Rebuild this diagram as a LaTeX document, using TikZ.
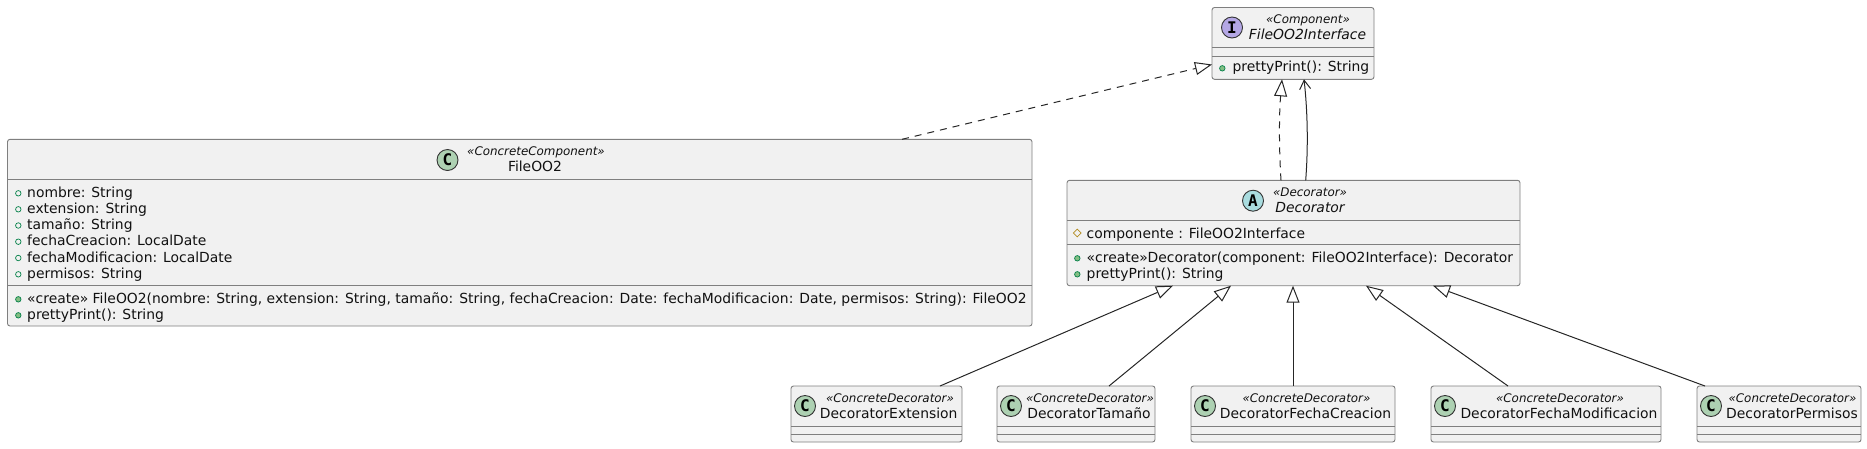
\documentclass[tikz,border=0pt]{standalone}
\usepackage{fontspec}
\setmainfont{DejaVu Sans}
\newfontfamily\badgefont{DejaVu Sans Mono}[BoldFont={DejaVu Sans Mono Bold}]
\usetikzlibrary{arrows.meta,shapes.geometric}
\definecolor{bgc}{HTML}{F1F1F1}
\definecolor{edgec}{HTML}{7F7F7F}
\definecolor{txtc}{HTML}{111111}
\definecolor{grnc}{HTML}{84BE84}
\definecolor{grnd}{HTML}{038048}
\definecolor{dia}{HTML}{B38D22}
\definecolor{clsc}{HTML}{ADD1B2}
\definecolor{absc}{HTML}{A9DCDF}
\definecolor{intc}{HTML}{B4A7E5}
\newcommand{\stereo}[1]{{\fontsize{11.9}{14}\selectfont\itshape «#1»}}
\tikzset{x=1pt,y=-1pt,
 classbox/.style={draw=edgec,fill=bgc,line width=0.9pt,rounded corners=2.5pt},
 sepline/.style={draw=edgec,line width=0.9pt},
 member/.style={anchor=base west,inner sep=0pt,font=\fontsize{13.9}{16}\selectfont,text=txtc},
 title/.style={anchor=base,inner sep=0pt,font=\fontsize{13.9}{16}\selectfont,text=txtc},
 titleit/.style={title,font=\fontsize{13.9}{16}\selectfont\itshape},
 stereotype/.style={anchor=base,inner sep=0pt,text=txtc},
 badge/.style={circle,draw=black!80,line width=0.9pt,minimum size=21pt,inner sep=0pt,font=\badgefont\fontsize{16}{18}\selectfont\bfseries},
 pubf/.style={circle,draw=grnd,fill=grnc,line width=0.7pt,minimum size=5.5pt,inner sep=0pt},
 pubo/.style={circle,draw=grnd,fill=none,line width=0.7pt,minimum size=5.5pt,inner sep=0pt},
 prot/.style={diamond,draw=dia,line width=0.7pt,inner sep=0pt,minimum size=8pt,aspect=1},
 rel/.style={draw=black!85,line width=1pt},
 dashrel/.style={rel,dash pattern=on 7pt off 6pt},
 hollow/.style={-{Triangle[open,length=17pt,width=13pt,fill=white]}},
 openarr/.style={-{Straight Barb[length=9pt,width=11pt]}},
}
\begin{document}
\begin{tikzpicture}
\useasboundingbox (0,0) rectangle (1867,448);
% Interface
\draw[classbox] (1212,7.5) rectangle (1374,79.3);
\draw[sepline] (1212,47) -- (1374,47) (1212,56) -- (1374,56);
\node[badge,fill=intc] (bi) at (1232,27.5) {I};
\node[stereotype] (si) at (1308,23) {\stereo{Component}};
\node[titleit] (ti) at (1307.5,39) {FileOO2Interface};
\node[pubf] (mi) at (1222.3,68.3) {};
\node[member] (pi) at (1232.3,71.7) {prettyPrint(): String};
\coordinate (ifL) at (1212,64.5);
\coordinate (ifD) at (1282,79.3);
\coordinate (ifU) at (1304,79.3);
% FileOO2
\draw[classbox] (7.5,139.3) rectangle (1032,326);
\draw[sepline] (7.5,179.3) -- (1032,179.3) (7.5,285.3) -- (1032,285.3);
\node[badge,fill=clsc] (bf) at (447.5,160) {C};
\node[stereotype] (sf) at (536,155.7) {\stereo{ConcreteComponent}};
\node[title] (tf) at (535,171.7) {FileOO2};
\foreach \y/\t/\n in {197.3/nombre: String/a,213.3/extension: String/b,229.5/tamaño: String/c,245.7/fechaCreacion: LocalDate/d,262/fechaModificacion: LocalDate/e,278.3/permisos: String/f}{
 \node[pubo] (o\n) at (18.3,\y-4) {};
 \node[member] (m\n) at (27,\y) {\t};
}
\node[pubf] (og) at (18.3,299.3) {};
\node[member] (mg) at (27,303.3) {«create» FileOO2(nombre: String, extension: String, tamaño: String, fechaCreacion: Date: fechaModificacion: Date, permisos: String): FileOO2};
\node[pubf] (oh) at (18.3,315.3) {};
\node[member] (mh) at (27,319.3) {prettyPrint(): String};
\coordinate (fT) at (902,139.3);
% Decorator
\draw[classbox] (1067,180.3) rectangle (1520,285.7);
\draw[sepline] (1067,220.7) -- (1520,220.7) (1067,244.7) -- (1520,244.7);
\node[badge,fill=absc] (ba) at (1253,200.7) {A};
\node[stereotype] (sa) at (1310,196) {\stereo{Decorator}};
\node[titleit] (ta) at (1310,212) {Decorator};
\node[prot] (pa) at (1077.3,233) {};
\node[member] (ma) at (1086.5,238) {componente : FileOO2Interface};
\node[pubf] (oa) at (1077.3,258.3) {};
\node[member] (mb) at (1086.5,262) {«create»Decorator(component: FileOO2Interface): Decorator};
\node[pubf] (ob) at (1077.3,274.3) {};
\node[member] (mc) at (1086.5,278) {prettyPrint(): String};
\coordinate (dA) at (1281,180.3);
\coordinate (dB) at (1305.7,180.3);
\coordinate (d1) at (1173,285.7);
\coordinate (d2) at (1231,285.7);
\coordinate (d3) at (1293,285.7);
\coordinate (d4) at (1366,285.7);
\coordinate (d5) at (1433,285.7);
% Children
\foreach \n/\l/\r/\name/\tx/\sx in {
 k/791/962/DecoratorExtension/888.7/890,
 l/997/1155/DecoratorTamaño/1089/1090,
 m/1191/1395/DecoratorFechaCreacion/1305.5/1306.5,
 n/1431/1661/DecoratorFechaModificacion/1559/1560,
 o/1697/1861/DecoratorPermisos/1792/1792.5}{
 \draw[classbox] (\l,386) rectangle (\r,442);
 \draw[sepline] (\l,426) -- (\r,426) (\l,434) -- (\r,434);
 \node[badge,fill=clsc] (b\n) at (\l+14,406) {C};
 \node[stereotype] (s\n) at (\sx,402) {\stereo{ConcreteDecorator}};
 \node[title] (t\n) at (\tx,418) {\name};
}
\coordinate (c1) at (940,386);
\coordinate (c2) at (1109,386);
\coordinate (c3) at (1293,386);
\coordinate (c4) at (1508,386);
\coordinate (c5) at (1705,386);
% Relations
\draw[dashrel,hollow] (fT) -- (ifL);
\draw[dashrel,hollow] (dA) .. controls (1279,150) and (1279,115) .. (ifD);
\draw[rel,openarr] (dB) .. controls (1308,150) and (1308,115) .. (ifU);
\draw[rel,hollow] (c1) -- (d1);
\draw[rel,hollow] (c2) -- (d2);
\draw[rel,hollow] (c3) -- (d3);
\draw[rel,hollow] (c4) -- (d4);
\draw[rel,hollow] (c5) -- (d5);
\end{tikzpicture}
\end{document}
